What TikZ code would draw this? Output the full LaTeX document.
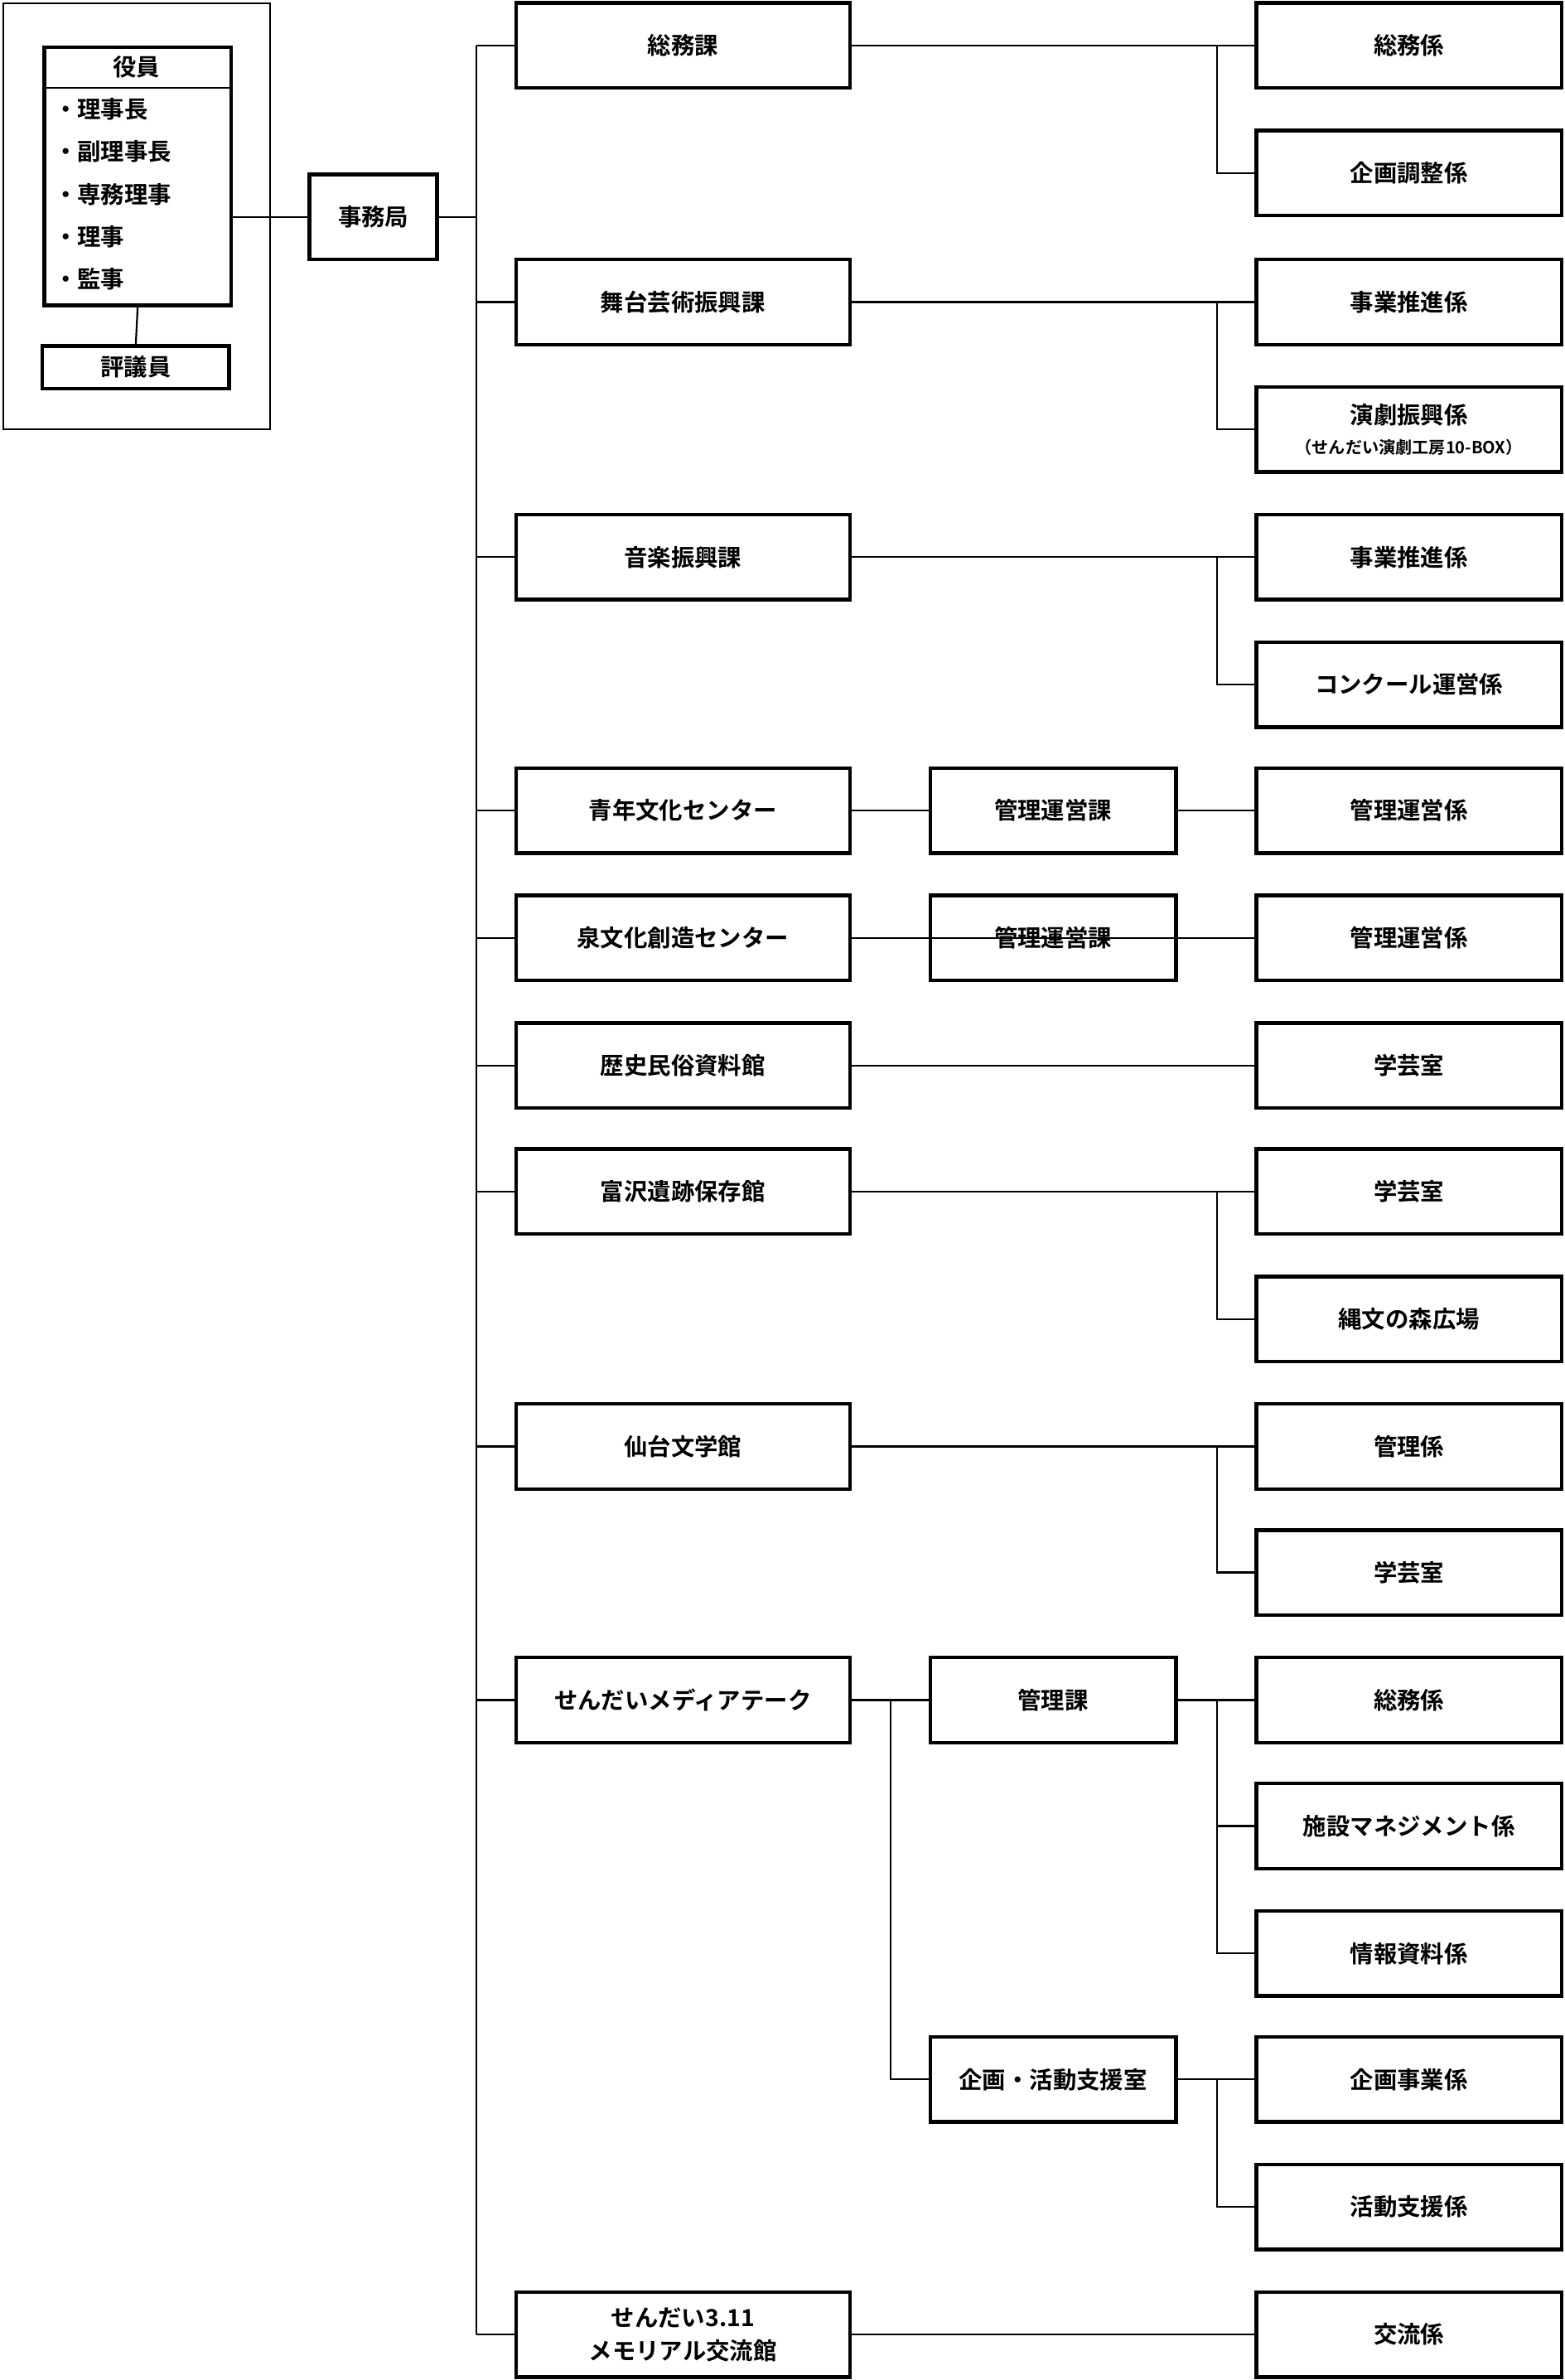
\documentclass[tikz,border=0pt]{standalone}
\usepackage{fontspec}
\newfontfamily\jp{Noto Sans CJK JP Bold}
\begin{document}
\begin{tikzpicture}[x=1pt,y=-1pt,
  box/.style={draw,line width=2.4pt,inner sep=0pt,minimum height=56pt,font=\jp\fontsize{15.5}{18}\selectfont,align=center},
  cA/.style={box,minimum width=220pt},
  cB/.style={box,minimum width=162pt},
  cC/.style={box,minimum width=201pt},
  ln/.style={line width=1.2pt}]
\useasboundingbox (0,0) rectangle (1031,1568);
\draw[ln] (2,2) rectangle (178,283);
\node[box,minimum width=123pt,minimum height=170pt,anchor=north west] (yaku) at (28,30) {};
\draw[ln] (28,58) -- (151,58);
\node[font=\jp\fontsize{15.5}{18}\selectfont] (yh) at (90,44) {役員};
\foreach \t/\y in {理事長/72,副理事長/100,専務理事/128,理事/156,監事/184}
  \node[font=\jp\fontsize{15.5}{18}\selectfont,anchor=west] at (32,\y) {・\t};
\node[box,minimum width=123pt,minimum height=28pt] (hyo) at (89.5,242) {評議員};
\draw[ln] (yaku.south) -- (hyo.north);
\node[box,minimum width=84pt] (jim) at (246,143) {事務局};
\draw[ln] (yaku.east |- jim) -- (jim.west);
\coordinate (bt) at (314,30); \coordinate (bb) at (314,1538);
\draw[ln] (jim.east) -- (314,143);
\draw[ln] (bt) -- (bb);
% column A
\foreach \n/\t/\y in {a1/総務課/30,a2/舞台芸術振興課/199,a3/音楽振興課/367,a4/青年文化センター/534,a5/泉文化創造センター/618,a6/歴史民俗資料館/702,a7/富沢遺跡保存館/785,a8/仙台文学館/953,a9/せんだいメディアテーク/1120,a10/{せんだい3.11\\[4pt]メモリアル交流館}/1538}{
  \node[cA] (\n) at (450,\y) {\t};
  \draw[ln] (314,\y) -- (\n.west);}
% column C
\foreach \n/\t/\y in {c1/総務係/30,c2/企画調整係/114,c3/事業推進係/199,c5/事業推進係/367,c6/コンクール運営係/451,c7/管理運営係/534,c8/管理運営係/618,c9/学芸室/702,c10/学芸室/785,c11/縄文の森広場/869,c12/管理係/953,c13/学芸室/1036,c14/総務係/1120,c15/施設マネジメント係/1203,c16/情報資料係/1287,c17/企画事業係/1370,c18/活動支援係/1454,c19/交流係/1538}
  \node[cC] (\n) at (928.5,\y) {\t};
\node[cC] (c4) at (928.5,283) {演劇振興係\\[2pt]{\fontsize{11}{13}\selectfont （せんだい演劇工房10-BOX）}};
% column B
\node[cB] (b1) at (694,534) {管理運営課};
\node[cB] (b2) at (694,618) {管理運営課};
\node[cB] (b3) at (694,1120) {管理課};
\node[cB] (b4) at (694,1370) {企画・活動支援室};
% connectors
\foreach \a/\x/\y in {a1/c1/c2,a2/c3/c4,a3/c5/c6,a7/c10/c11,a8/c12/c13}{
  \draw[ln] (\a.east) -- (\x.west);
  \draw[ln] (802,0 |- \x.west) -- (802,0 |- \y.west) -- (\y.west);}
\draw[ln] (a4.east) -- (b1.west) (b1.east) -- (c7.west);
\draw[ln] (a5.east) -- (b2.east) ;
\draw[ln] (a5.east) -- (b2.west) (b2.east) -- (c8.west);
\draw[ln] (a6.east) -- (c9.west);
\draw[ln] (a10.east) -- (c19.west);
\draw[ln] (a9.east) -- (b3.west);
\draw[ln] (587,1120) -- (587,1370) -- (b4.west);
\draw[ln] (b3.east) -- (c14.west);
\draw[ln] (802,1120) |- (c15.west);
\draw[ln] (802,1203) |- (c16.west);
\draw[ln] (b4.east) -- (c17.west);
\draw[ln] (802,1370) |- (c18.west);
\end{tikzpicture}
\end{document}
